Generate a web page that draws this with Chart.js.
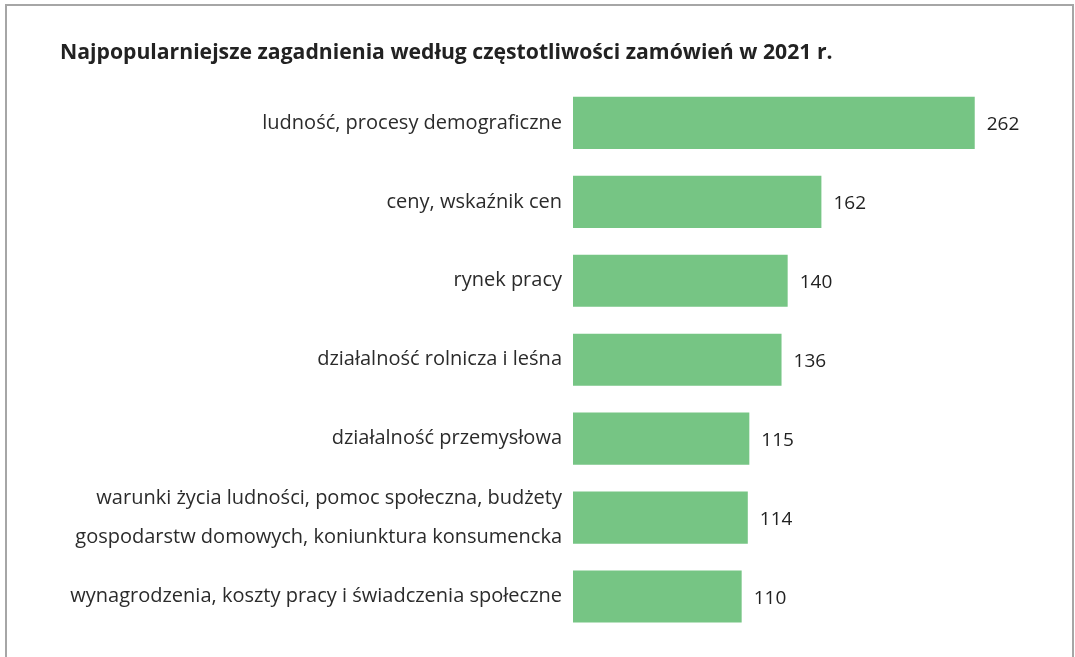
<!DOCTYPE html>
<html>
<head>
<meta charset="utf-8">
<script src="https://cdn.jsdelivr.net/npm/chart.js@4"></script>
<style>
    html, body { margin: 0; padding: 0; background: #fff; overflow: hidden; }
    #frame {
        position: absolute; left: 5px; top: 4px; width: 1065px; height: 700px;
        border-left: 2px solid #a6a6a6; border-top: 2px solid #a6a6a6; border-right: 2px solid #a6a6a6;
        pointer-events: none;
    }
    #wrap { position: absolute; left: 0; top: 0; width: 1075px; height: 657px; }
</style>
</head>
<body>
<div id="wrap"><canvas id="chart"></canvas></div>
<div id="frame"></div>
<script>
const title = 'Najpopularniejsze zagadnienia według częstotliwości zamówień w 2021 r.';
const categories = [
    'ludność, procesy demograficzne',
    'ceny, wskaźnik cen',
    'rynek pracy',
    'działalność rolnicza i leśna',
    'działalność przemysłowa',
    ['warunki życia ludności, pomoc społeczna, budżety', 'gospodarstw domowych, koniunktura konsumencka'],
    'wynagrodzenia, koszty pracy i świadczenia społeczne'
];
const orders = [262, 162, 140, 136, 115, 114, 110];

const labelFont = { family: "'Open Sans', sans-serif", size: 20 };

// simple value labels drawn right of each bar
const valueLabels = {
    id: 'valueLabels',
    afterDatasetsDraw(chart) {
        const ctx = chart.ctx;
        const meta = chart.getDatasetMeta(0);
        ctx.save();
        ctx.font = '19px ' + labelFont.family;
        ctx.fillStyle = '#222';
        ctx.textAlign = 'left';
        ctx.textBaseline = 'middle';
        meta.data.forEach((bar, i) => {
            ctx.fillText(String(orders[i]), bar.x + 12, bar.y + 2);
        });
        ctx.restore();
    }
};

new Chart(document.getElementById('chart').getContext('2d'), {
    type: 'bar',
    data: {
        labels: categories,
        datasets: [{
            data: orders,
            backgroundColor: '#76c584',
            borderWidth: 0,
            categoryPercentage: 1,
            barPercentage: 0.66
        }]
    },
    plugins: [valueLabels],
    options: {
        indexAxis: 'y',
        responsive: true,
        maintainAspectRatio: false,
        animation: false,
        layout: {
            padding: { left: 60, right: 42, top: 40, bottom: 21 }
        },
        plugins: {
            legend: { display: false },
            tooltip: { enabled: false },
            title: {
                display: true,
                text: title,
                align: 'start',
                color: '#222',
                font: { family: "'Open Sans', sans-serif", size: 21.2, weight: 'bold', lineHeight: 1.2 },
                padding: { top: 0, bottom: 18 }
            }
        },
        scales: {
            x: {
                display: false,
                min: 0,
                max: 300
            },
            y: {
                grid: { display: false, drawTicks: false },
                border: { display: false },
                ticks: {
                    autoSkip: false,
                    color: '#2b2b2b',
                    padding: 11,
                    font: { family: labelFont.family, size: labelFont.size, lineHeight: '39px' }
                },
                afterFit(scale) {
                    scale.width = 513;
                    // tall tick lines shouldn't shrink the plot area
                    scale.paddingTop = 0;
                    scale.paddingBottom = 0;
                }
            }
        }
    }
});
</script>
</body>
</html>
